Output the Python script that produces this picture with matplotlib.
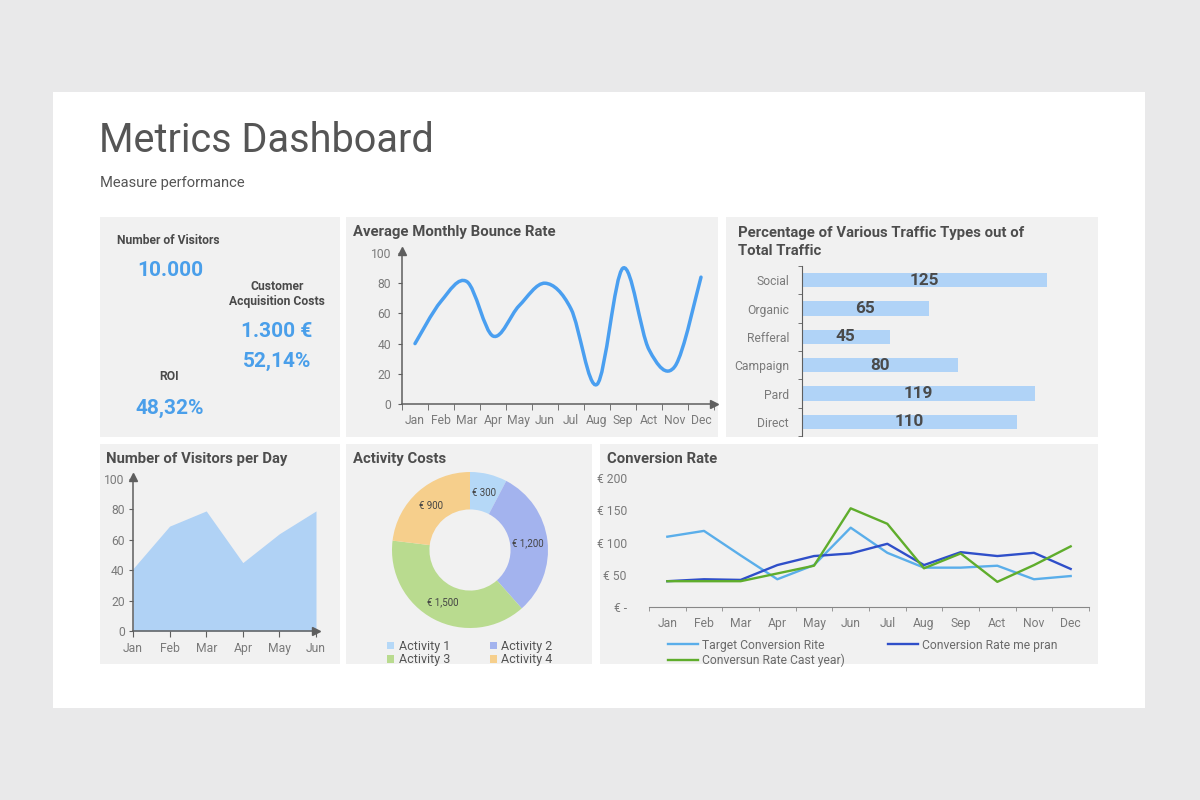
import numpy as np
import matplotlib
matplotlib.use("Agg")
import matplotlib.pyplot as plt
from matplotlib.patches import Rectangle, PathPatch
from matplotlib.path import Path

plt.rcParams['font.family'] = ['Roboto', 'DejaVu Sans']

# ---------------------------------------------------------------------------
# data
# ---------------------------------------------------------------------------
months = ['Jan', 'Feb', 'Mar', 'Apr', 'May', 'Jun', 'Jul', 'Aug', 'Sep', 'Act', 'Nov', 'Dec']
bounce_rate = [40, 68, 81, 45, 65, 80, 63, 13, 90, 36, 25, 84]

traffic_types = ['Social', 'Organic', 'Refferal', 'Campaign', 'Pard', 'Direct']
traffic_values = [125, 65, 45, 80, 119, 110]

day_months = ['Jan', 'Feb', 'Mar', 'Apr', 'May', 'Jun']
visitors_per_day = [41, 69, 79, 45, 64, 79]

activities = ['Activity 1', 'Activity 2', 'Activity 3', 'Activity 4']
activity_costs = [300, 1200, 1500, 900]
activity_labels = ['€ 300', '€ 1,200', '€ 1,500', '€ 900']

conv_target = [109, 118, 80, 43, 65, 123, 84, 61, 61, 64, 43, 48]
conv_plan = [40, 43, 42, 65, 79, 83, 98, 65, 85, 79, 84, 59]
conv_last = [40, 40, 40, 52, 64, 153, 129, 60, 83, 39, 65, 94]
conv_ticks = [0, 50, 100, 150, 200]
conv_tick_labels = ['€ -', '€ 50', '€ 100', '€ 150', '€ 200']

kpi_visitors = '10.000'
kpi_cac = '1.300 €'
kpi_cac_pct = '52,14%'
kpi_roi = '48,32%'

# ---------------------------------------------------------------------------
# style
# ---------------------------------------------------------------------------
W, H = 1200, 800
TITLE_C = '#4d4d4d'
TICK_C = '#7a7a7a'
AXIS_C = '#5e5e5e'
PANEL_C = '#f1f1f1'
BLUE_TXT = '#4a9fea'
TICK_FS = 8.7
TITLE_FS = 10.7
LABEL_FS = 8.7


def rect(x, y, w, h):
    return [x / W, 1 - (y + h) / H, w / W, h / H]


def fx(x):
    return x / W


def fy(y):
    return 1 - y / H


fig = plt.figure(figsize=(12, 8), dpi=100, facecolor='#e9e9ea')

# white card
card = Rectangle((fx(53), fy(708)), fx(1145) - fx(53), fy(92) - fy(708),
                 transform=fig.transFigure, facecolor='white', edgecolor='none', zorder=-5)
fig.patches.append(card)

fig.text(fx(99), fy(141), 'Metrics Dashboard', fontsize=28.5, color='#555555',
         va='center', ha='left')
fig.text(fx(100), fy(183), 'Measure performance', fontsize=10.6, color='#555555',
         va='center', ha='left')

panels = [(100, 217, 240, 220), (346, 217, 372, 220), (726, 217, 372, 220),
          (100, 444, 240, 220), (346, 444, 246, 220), (600, 444, 498, 220)]
for (px, py, pw, ph) in panels:
    bg = fig.add_axes(rect(px, py, pw, ph), zorder=-1)
    bg.set_facecolor(PANEL_C)
    bg.set_xticks([])
    bg.set_yticks([])
    for s in bg.spines.values():
        s.set_visible(False)


def panel_title(x, y, txt):
    fig.text(fx(x), fy(y), txt, fontsize=TITLE_FS, fontweight='bold', color=TITLE_C,
             va='center', ha='left')


def arrows(ax, top=True, right=True):
    if right:
        ax.plot(1, 0, marker='>', color=AXIS_C, markersize=6,
                transform=ax.transAxes, clip_on=False)
    if top:
        ax.plot(0, 1.01, marker='^', color=AXIS_C, markersize=6,
                transform=ax.transAxes, clip_on=False)


# ---------------------------------------------------------------------------
# KPI panel
# ---------------------------------------------------------------------------
fig.text(fx(117), fy(240), 'Number of Visitors', fontsize=LABEL_FS, fontweight='bold',
         color='#4a4a4a', va='center', ha='left')
fig.text(fx(170), fy(270), kpi_visitors, fontsize=15, fontweight='bold',
         color=BLUE_TXT, va='center', ha='center')
fig.text(fx(277), fy(286), 'Customer', fontsize=LABEL_FS, fontweight='bold',
         color='#4a4a4a', va='center', ha='center')
fig.text(fx(277), fy(301), 'Acquisition Costs', fontsize=LABEL_FS, fontweight='bold',
         color='#4a4a4a', va='center', ha='center')
fig.text(fx(277), fy(331), kpi_cac, fontsize=15, fontweight='bold',
         color=BLUE_TXT, va='center', ha='center')
fig.text(fx(277), fy(361), kpi_cac_pct, fontsize=15, fontweight='bold',
         color=BLUE_TXT, va='center', ha='center')
fig.text(fx(169), fy(377), 'ROI', fontsize=LABEL_FS, fontweight='bold',
         color='#4a4a4a', va='center', ha='center')
fig.text(fx(170), fy(408), kpi_roi, fontsize=15, fontweight='bold',
         color=BLUE_TXT, va='center', ha='center')

# ---------------------------------------------------------------------------
# Average monthly bounce rate (smoothed line)
# ---------------------------------------------------------------------------
panel_title(353, 232, 'Average Monthly Bounce Rate')
ax = fig.add_axes(rect(402, 253, 312, 151))
ax.patch.set_visible(False)
xs = np.arange(len(bounce_rate), dtype=float)
ys = np.array(bounce_rate, dtype=float)
pts = np.column_stack([xs, ys])
ext = np.vstack([pts[0], pts, pts[-1]])
verts = [tuple(pts[0])]
codes = [Path.MOVETO]
for i in range(len(pts) - 1):
    p0, p1, p2, p3 = ext[i], ext[i + 1], ext[i + 2], ext[i + 3]
    c1 = p1 + (p2 - p0) / 6.0
    c2 = p2 - (p3 - p1) / 6.0
    verts += [tuple(c1), tuple(c2), tuple(p2)]
    codes += [Path.CURVE4] * 3
ax.add_patch(PathPatch(Path(verts, codes), facecolor='none', edgecolor='#4a9ff0',
                       lw=2.5, capstyle='round'))
ax.set_xlim(-0.5, 11.5)
ax.set_ylim(0, 100)
ax.set_xticks(xs)
ax.set_xticklabels(months)
ax.set_xticks(np.arange(-0.5, 12, 1), minor=True)
ax.tick_params(axis='x', which='major', length=0, pad=7, labelsize=TICK_FS, labelcolor=TICK_C)
ax.tick_params(axis='x', which='minor', length=4, color=AXIS_C, direction='out')
ax.set_yticks([0, 20, 40, 60, 80, 100])
ax.tick_params(axis='y', length=3, color=AXIS_C, labelsize=TICK_FS, labelcolor=TICK_C, pad=5)
for s in ['top', 'right']:
    ax.spines[s].set_visible(False)
for s in ['left', 'bottom']:
    ax.spines[s].set_color(AXIS_C)
    ax.spines[s].set_linewidth(1.1)
arrows(ax)

# ---------------------------------------------------------------------------
# Traffic types bars
# ---------------------------------------------------------------------------
fig.text(fx(738), fy(233), 'Percentage of Various Traffic Types out of',
         fontsize=TITLE_FS, fontweight='bold', color=TITLE_C, va='center', ha='left')
fig.text(fx(738), fy(251), 'Total Traffic', fontsize=TITLE_FS, fontweight='bold',
         color=TITLE_C, va='center', ha='left')
ax = fig.add_axes(rect(800, 266, 276, 170))
ax.patch.set_visible(False)
ypos = np.arange(len(traffic_values))
ax.barh(ypos, traffic_values, height=0.5, color='#b0d3f7', left=0)
for yv, v in zip(ypos, traffic_values):
    ax.text(v / 2, yv, str(v), ha='center', va='center', fontsize=12.3,
            fontweight='bold', color='#4a4a4a')
ax.set_ylim(len(traffic_values) - 0.5, -0.5)
ax.set_xlim(-0.8, 140)
ax.set_yticks(ypos)
ax.set_yticklabels(traffic_types)
ax.set_yticks(np.arange(-0.5, len(traffic_values), 1), minor=True)
ax.tick_params(axis='y', which='major', length=0, pad=9, labelsize=TICK_FS, labelcolor=TICK_C)
ax.tick_params(axis='y', which='minor', length=3, color=AXIS_C)
ax.set_xticks([])
for s in ['top', 'right', 'bottom']:
    ax.spines[s].set_visible(False)
ax.spines['left'].set_color(AXIS_C)
ax.spines['left'].set_position(('data', 0))

# ---------------------------------------------------------------------------
# Visitors per day (area)
# ---------------------------------------------------------------------------
panel_title(106, 459, 'Number of Visitors per Day')
ax = fig.add_axes(rect(133, 479, 183, 152))
ax.patch.set_visible(False)
dx = np.arange(len(visitors_per_day))
ax.fill_between(dx, visitors_per_day, 0, color='#b0d2f5', lw=0)
ax.set_xlim(0, len(visitors_per_day) - 1)
ax.set_ylim(0, 100)
ax.set_xticks(dx)
ax.set_xticklabels(day_months)
ax.tick_params(axis='x', length=4, color=AXIS_C, pad=4, labelsize=TICK_FS, labelcolor=TICK_C)
ax.set_yticks([0, 20, 40, 60, 80, 100])
ax.tick_params(axis='y', length=3, color=AXIS_C, labelsize=TICK_FS, labelcolor=TICK_C, pad=3)
for s in ['top', 'right']:
    ax.spines[s].set_visible(False)
for s in ['left', 'bottom']:
    ax.spines[s].set_color(AXIS_C)
    ax.spines[s].set_linewidth(1.1)
arrows(ax)

# ---------------------------------------------------------------------------
# Activity costs donut
# ---------------------------------------------------------------------------
panel_title(353, 459, 'Activity Costs')
ax = fig.add_axes(rect(392, 472, 156, 156))
wedges, texts = ax.pie(activity_costs, colors=['#b5d8f7', '#a3b3ee', '#b9db8f', '#f6cf8c'],
                       startangle=90, counterclock=False, labels=activity_labels,
                       labeldistance=0.75, wedgeprops=dict(width=0.48, linewidth=0),
                       textprops=dict(fontsize=7, color='#444444'))
for t in texts:
    t.set_ha('center')
    t.set_va('center')
ax.set_xlim(-1, 1)
ax.set_ylim(-1, 1)
ax.set_aspect('equal')
# legend filled row by row: (1, 2) on top, (3, 4) below
order = [0, 2, 1, 3]
ax.legend([wedges[i] for i in order], [activities[i] for i in order], ncol=2,
          loc='upper center', bbox_to_anchor=(0.5, -0.075),
          frameon=False, fontsize=9, handlelength=0.55, handleheight=0.55,
          handletextpad=0.35, columnspacing=3.2, labelspacing=0.05, labelcolor='#555555',
          borderaxespad=0, borderpad=0)

# ---------------------------------------------------------------------------
# Conversion rate lines
# ---------------------------------------------------------------------------
panel_title(607, 459, 'Conversion Rate')
ax = fig.add_axes(rect(649, 478, 440, 129))
ax.patch.set_visible(False)
cx = np.arange(len(months))
l1, = ax.plot(cx, conv_target, color='#5aaeea', lw=1.7, label='Target Conversion Rite')
l2, = ax.plot(cx, conv_plan, color='#2f4fc9', lw=1.7, label='Conversion Rate me pran')
l3, = ax.plot(cx, conv_last, color='#5fad2c', lw=1.7, label='Conversun Rate Cast year)')
ax.set_xlim(-0.5, 11.5)
ax.set_ylim(0, 200)
ax.set_xticks(cx)
ax.set_xticklabels(months)
ax.set_xticks(np.arange(-0.5, 12, 1), minor=True)
ax.tick_params(axis='x', which='major', length=0, pad=7, labelsize=TICK_FS, labelcolor=TICK_C)
ax.tick_params(axis='x', which='minor', length=3, color='#888888')
ax.set_yticks(conv_ticks)
ax.set_yticklabels(conv_tick_labels)
ax.tick_params(axis='y', length=0, pad=16, labelsize=TICK_FS, labelcolor=TICK_C)
for s in ['top', 'right', 'left']:
    ax.spines[s].set_visible(False)
ax.spines['bottom'].set_color('#888888')
ax.legend([l1, l3, l2], [l1.get_label(), l3.get_label(), l2.get_label()], ncol=2,
          loc='upper left', bbox_to_anchor=(0.043, -0.245), frameon=False, fontsize=TICK_FS,
          handlelength=2.5, handletextpad=0.35, columnspacing=3.5, labelspacing=0.15,
          labelcolor='#6a6a6a', borderaxespad=0, borderpad=0)

fig.savefig('out.png', dpi=100, facecolor=fig.get_facecolor())
